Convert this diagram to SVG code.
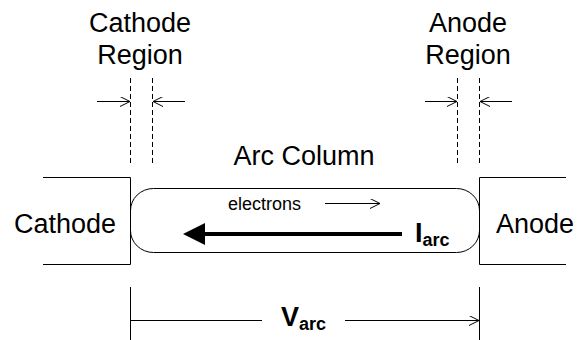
<svg xmlns="http://www.w3.org/2000/svg" width="581" height="340" viewBox="0 0 581 340">
  <style>
    text { font-family: "Liberation Sans", Arial, sans-serif; fill: #000; }
    .lbl { font-size: 27px; }
    .small { font-size: 18px; }
    .bold { font-weight: bold; }
    .ln { stroke: #000; stroke-width: 1; fill: none; }
    .dash { stroke: #000; stroke-width: 1; fill: none; stroke-dasharray: 5 3; }
  </style>
  <defs>
    <marker id="open" viewBox="0 0 10 10" refX="10" refY="5" markerWidth="10" markerHeight="10" markerUnits="userSpaceOnUse" orient="auto">
      <path d="M0,0 L10,5 L0,10" fill="none" stroke="#000" stroke-width="1"/>
    </marker>
    <marker id="solid" viewBox="0 0 22 22" refX="22" refY="11" markerWidth="22" markerHeight="22" markerUnits="userSpaceOnUse" orient="auto">
      <path d="M0,0 L22,11 L0,22 Z" fill="#000"/>
    </marker>
  </defs>

  <!-- region labels -->
  <g id="cathode-region">
    <text class="lbl" x="140" y="32" text-anchor="middle">Cathode</text>
    <text class="lbl" x="140" y="64" text-anchor="middle">Region</text>
    <line class="dash" x1="130.5" y1="78" x2="130.5" y2="164"/>
    <line class="dash" x1="152.5" y1="78" x2="152.5" y2="164"/>
  </g>
  <g id="anode-region">
    <text class="lbl" x="468" y="32" text-anchor="middle">Anode</text>
    <text class="lbl" x="468" y="64" text-anchor="middle">Region</text>
    <line class="dash" x1="457.5" y1="78" x2="457.5" y2="164"/>
    <line class="dash" x1="479.5" y1="78" x2="479.5" y2="164"/>
  </g>

  <text class="lbl" x="304" y="165" text-anchor="middle">Arc Column</text>

  <!-- electrodes -->
  <g id="cathode">
    <path class="ln" d="M43,177.5 H130.5 V264.5 H43"/>
    <text class="lbl" x="14" y="233">Cathode</text>
  </g>
  <g id="anode">
    <path class="ln" d="M566,177.5 H479.5 V264.5 H566"/>
    <text class="lbl" x="496" y="233">Anode</text>
  </g>

  <!-- arc column capsule -->
  <g id="arc-column">
    <rect class="ln" x="130.5" y="188.5" width="349" height="64" rx="23" ry="22"/>
    <text class="small" x="228" y="210">electrons</text>
    <text class="lbl bold" x="415" y="242">I<tspan class="small" dy="4">arc</tspan></text>
  </g>

  <!-- voltage span -->
  <g id="voltage">
    <line class="ln" x1="130.5" y1="287" x2="130.5" y2="340"/>
    <line class="ln" x1="479.5" y1="287" x2="479.5" y2="340"/>
    <text class="lbl bold" x="281" y="326">V<tspan class="small" dy="4">arc</tspan></text>
  </g>

  <g id="connectors">
    <line class="ln" x1="97" y1="101.5" x2="130" y2="101.5" marker-end="url(#open)"/>
    <line class="ln" x1="185" y1="101.5" x2="153" y2="101.5" marker-end="url(#open)"/>
    <line class="ln" x1="425" y1="101.5" x2="457" y2="101.5" marker-end="url(#open)"/>
    <line class="ln" x1="512" y1="101.5" x2="480" y2="101.5" marker-end="url(#open)"/>
    <line class="ln" x1="325" y1="203.5" x2="380" y2="203.5" marker-end="url(#open)"/>
    <line stroke="#000" stroke-width="4" x1="402" y1="234" x2="200" y2="234"/>
    <line stroke="none" x1="205" y1="234" x2="183" y2="234" marker-end="url(#solid)"/>
    <line class="ln" x1="130.5" y1="320.5" x2="262" y2="320.5"/>
    <line class="ln" x1="345" y1="320.5" x2="479" y2="320.5" marker-end="url(#open)"/>
  </g>
</svg>
